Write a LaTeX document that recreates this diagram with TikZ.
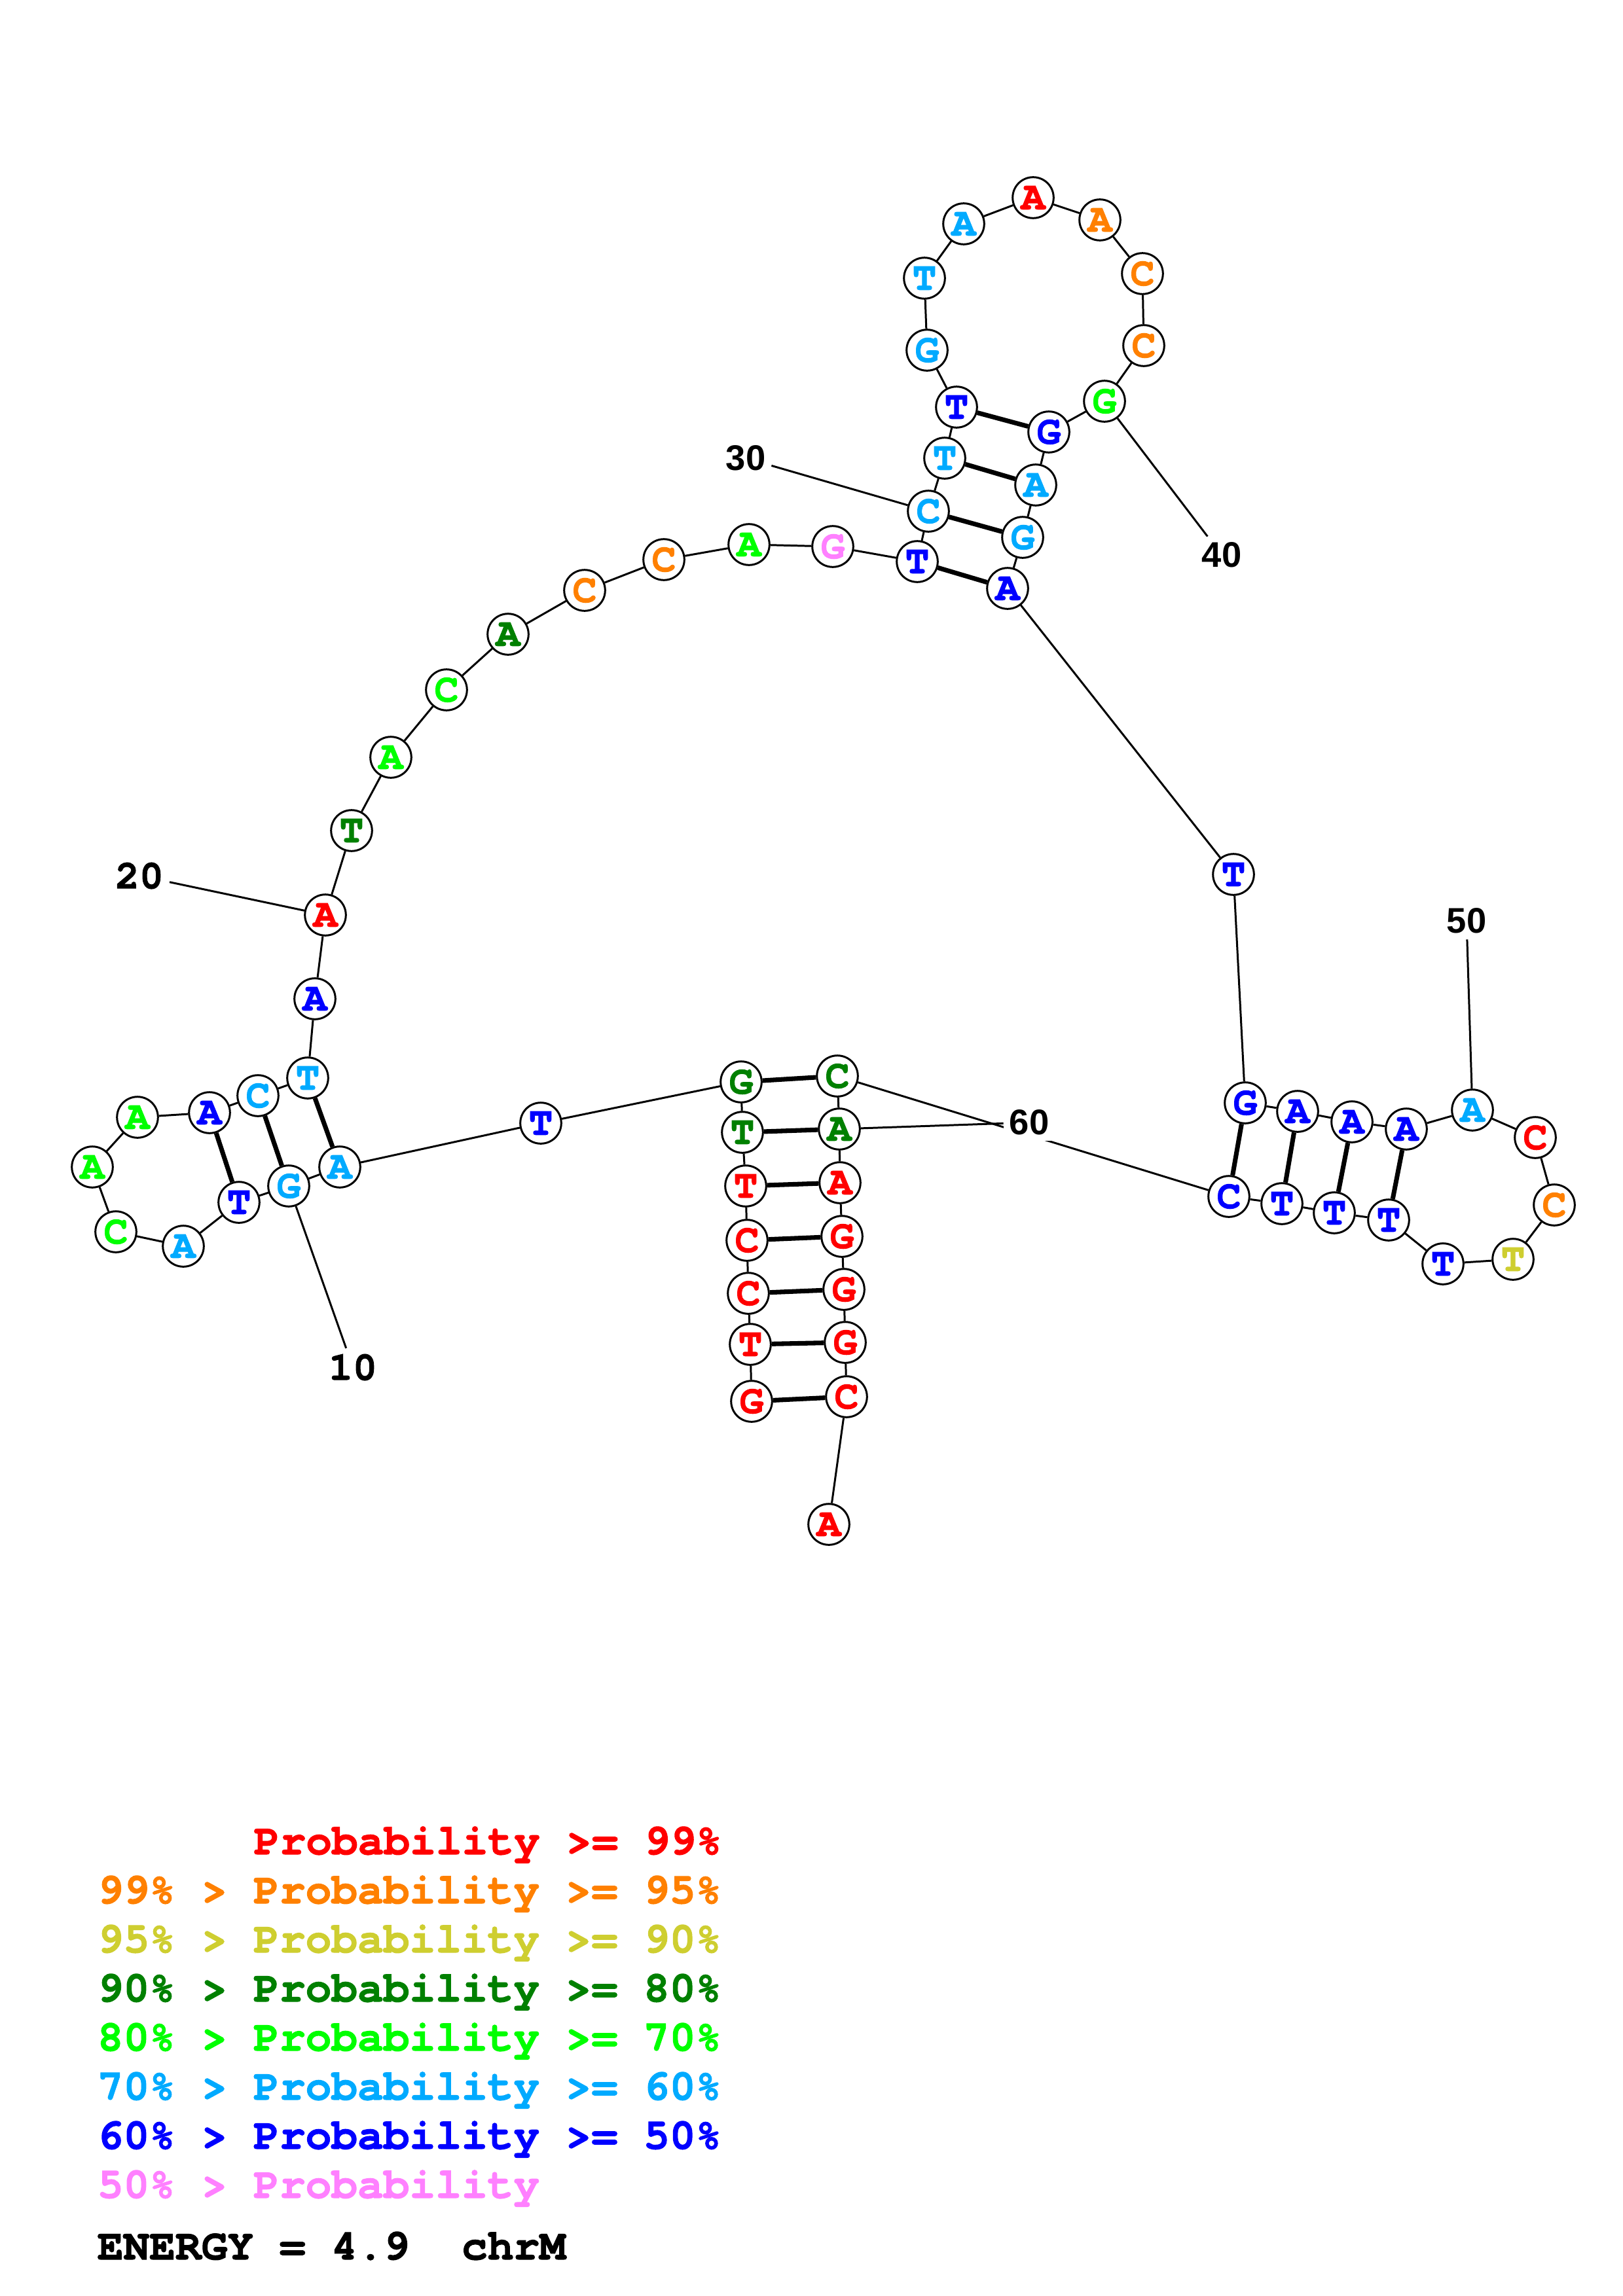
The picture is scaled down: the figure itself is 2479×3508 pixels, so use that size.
\documentclass[tikz,border=0pt]{standalone}
\usepackage{fontspec}
\newfontfamily\curfont{texgyrecursor}[Extension=.otf,UprightFont=*-regular,BoldFont=*-bold,BoldFeatures={FakeBold=1.6}]
\newfontfamily\helv{Liberation Sans}
\definecolor{cRed}{RGB}{255,0,0}
\definecolor{cOrange}{RGB}{255,128,0}
\definecolor{cYellow}{RGB}{206,206,48}
\definecolor{cDkGreen}{RGB}{0,128,0}
\definecolor{cGreen}{RGB}{0,255,0}
\definecolor{cSky}{RGB}{0,170,255}
\definecolor{cBlue}{RGB}{0,0,255}
\definecolor{cPink}{RGB}{255,128,255}
\pgfdeclarelayer{background}
\pgfsetlayers{background,main}
\tikzset{
  nt/.style={circle, draw=black, line width=0.72pt, fill=white, minimum size=5.3mm, inner sep=0pt,
    font=\curfont\bfseries\fontsize{14.8}{14.8}\selectfont},
  bb/.style={line width=0.72pt},
  bp/.style={line width=1.7pt},
  lab/.style={fill=white, inner sep=2pt},
  labc/.style={lab, font=\curfont\bfseries\fontsize{14.8}{14.8}\selectfont},
  labh/.style={lab, font=\helv\bfseries\fontsize{13.1}{13.1}\selectfont},
  leg/.style={anchor=base west, inner sep=0pt, font=\curfont\bfseries\fontsize{15.95}{15.95}\selectfont}
}
\begin{document}
\begin{tikzpicture}[x=0.084667mm, y=-0.084667mm]
\path[use as bounding box] (0,0) rectangle (2479,3508);
\foreach \n/\x/\y/\l/\c in {
 1/1148/2141/G/cRed, 2/1146/2054/T/cRed, 3/1143/1976/C/cRed, 4/1141/1895/C/cRed,
 5/1139/1812/T/cRed, 6/1134/1730/T/cDkGreen, 7/1132/1653/G/cDkGreen, 8/826/1716/T/cBlue,
 9/519/1783/A/cSky, 10/441/1812/G/cSky, 11/365/1837/T/cBlue, 12/280/1904/A/cSky,
 13/177/1882/C/cGreen, 14/141/1783/A/cGreen, 15/210/1707/A/cGreen, 16/320/1700/A/cBlue,
 17/394/1674/C/cSky, 18/470/1647/T/cSky, 19/481/1526/A/cBlue, 20/497/1398/A/cRed,
 21/537/1269/T/cDkGreen, 22/597/1157/A/cGreen, 23/682/1054/C/cGreen, 24/776/969/A/cDkGreen,
 25/893/902/C/cOrange, 26/1014/855/C/cOrange, 27/1144/832/A/cGreen, 28/1272/835/G/cPink,
 29/1401/858/T/cBlue, 30/1418/781/C/cSky, 31/1443/700/T/cSky, 32/1461/622/T/cBlue,
 33/1416/535/G/cSky, 34/1412/425/T/cSky, 35/1472/342/A/cSky, 36/1578/302/A/cRed,
 37/1680/336/A/cOrange, 38/1745/418/C/cOrange, 39/1747/528/C/cOrange, 40/1687/613/G/cGreen,
 41/1602/660/G/cBlue, 42/1582/741/A/cSky, 43/1562/821/G/cSky, 44/1539/899/A/cBlue,
 45/1884/1336/T/cBlue, 46/1902/1685/G/cBlue, 47/1982/1698/A/cBlue, 48/2065/1714/A/cBlue,
 49/2148/1725/A/cBlue, 50/2249/1696/A/cSky, 51/2345/1738/C/cRed, 52/2374/1841/C/cOrange,
 53/2311/1924/T/cYellow, 54/2204/1931/T/cBlue, 55/2121/1864/T/cBlue, 56/2038/1853/T/cBlue,
 57/1958/1839/T/cBlue, 58/1877/1828/C/cBlue, 59/1279/1644/C/cDkGreen, 60/1282/1725/A/cDkGreen,
 61/1283/1807/A/cRed, 62/1286/1889/G/cRed, 63/1289/1970/G/cRed, 64/1291/2051/G/cRed,
 65/1293/2134/C/cRed, 66/1266/2329/A/cRed}
 {\node[nt, text=\c] (n\n) at (\x,\y) {\l};}
% position labels
\node[labc] (l10) at (539,2089) {10};
\node[labc] (l20) at (213,1338) {20};
\node[labh] (l30) at (1139,700) {30};
\node[labh] (l40) at (1866,848) {40};
\node[labh] (l50) at (2240,1407) {50};
\node[labh] (l60) at (1572,1715) {60};
\begin{pgfonlayer}{background}
\foreach \i [evaluate=\i as \j using int(\i+1)] in {1,...,65}
  \draw[bb] (n\i) -- (n\j);
\foreach \a/\b in {1/65,2/64,3/63,4/62,5/61,6/60,7/59,9/18,10/17,11/16,29/44,30/43,31/42,32/41,46/58,47/57,48/56,49/55}
  \draw[bp] (n\a) -- (n\b);
\foreach \k in {10,20,30,40,50,60}
  \draw[bb] (n\k) -- (l\k);
\end{pgfonlayer}
% legend
\node[leg, text=cRed] (g1) at (387,2833) {Probability >= 99\%};
\node[leg, text=cOrange] (g2) at (148,2908) {99\% > Probability >= 95\%};
\node[leg, text=cYellow] (g3) at (148,2983) {95\% > Probability >= 90\%};
\node[leg, text=cDkGreen] (g4) at (148,3058) {90\% > Probability >= 80\%};
\node[leg, text=cGreen] (g5) at (148,3133) {80\% > Probability >= 70\%};
\node[leg, text=cSky] (g6) at (148,3208) {70\% > Probability >= 60\%};
\node[leg, text=cBlue] (g7) at (148,3283) {60\% > Probability >= 50\%};
\node[leg, text=cPink] (g8) at (148,3358) {50\% > Probability};
\node[leg, text=black] (g9) at (148,3452) {ENERGY = 4.9\ \ chrM};
\end{tikzpicture}
\end{document}
